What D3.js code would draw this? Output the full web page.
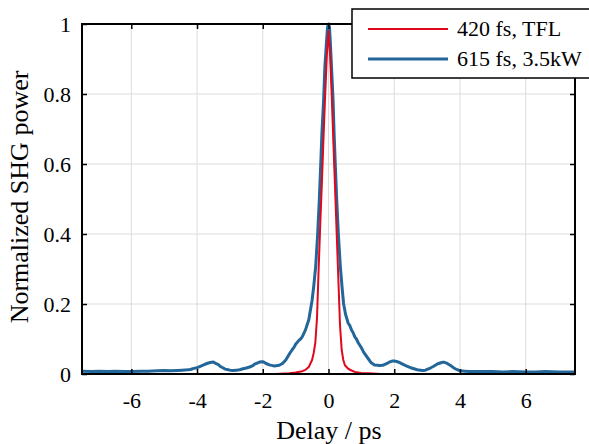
<!DOCTYPE html>
<html><head><meta charset="utf-8">
<script src="https://cdn.jsdelivr.net/npm/d3@7"></script>
<style>body{margin:0;background:#fff}svg{display:block}svg text{font-family:'Liberation Serif','Times New Roman',Times,serif !important}</style>
</head><body><svg id="c" width="589" height="444" font-family="'Liberation Serif', 'Times New Roman', serif"></svg>
<script>
const xTicks=[-6,-4,-2,0,2,4,6];
const yTicks=[0,0.2,0.4,0.6,0.8,1];
const yTickLabels=["0","0.2","0.4","0.6","0.8","1"];
const seriesNames=["420 fs, TFL","615 fs, 3.5kW"];
const seriesColors=["#e0081c","#23679a"];
const tflX=[-1.6,-1.2,-1.0,-0.8,-0.7,-0.6,-0.5,-0.45,-0.4,-0.35,-0.3,-0.25,-0.2,-0.15,-0.1,-0.05,0,0.05,0.1,0.15,0.2,0.25,0.3,0.35,0.4,0.45,0.5,0.6,0.7,0.8,1.0,1.2,1.6];
const tflY=[0,0.002,0.004,0.008,0.012,0.02,0.04,0.06,0.09,0.16,0.30,0.43,0.55,0.68,0.80,0.91,0.98,0.91,0.79,0.66,0.53,0.40,0.27,0.14,0.07,0.04,0.025,0.015,0.01,0.006,0.003,0.002,0];
const kwX=[-7.5,-7.2,-7.0,-6.7,-6.5,-6.2,-6.0,-5.7,-5.5,-5.2,-5.0,-4.8,-4.6,-4.45,-4.3,-4.2,-4.1,-4.0,-3.9,-3.8,-3.7,-3.6,-3.5,-3.45,-3.35,-3.3,-3.2,-3.15,-3.05,-3.0,-2.9,-2.8,-2.7,-2.6,-2.5,-2.4,-2.3,-2.25,-2.15,-2.1,-2.0,-1.95,-1.9,-1.8,-1.7,-1.65,-1.55,-1.5,-1.4,-1.3,-1.25,-1.2,-1.1,-1.05,-1.0,-0.9,-0.85,-0.8,-0.7,-0.6,-0.5,-0.45,-0.39,-0.33,-0.28,-0.24,-0.2,-0.15,-0.11,-0.06,-0.03,0,0.03,0.06,0.1,0.14,0.17,0.21,0.25,0.3,0.36,0.42,0.46,0.52,0.6,0.65,0.7,0.75,0.8,0.85,0.9,1.0,1.05,1.1,1.2,1.3,1.4,1.5,1.55,1.65,1.7,1.8,1.85,1.95,2.0,2.1,2.15,2.3,2.4,2.5,2.6,2.7,2.8,2.85,2.95,3.0,3.1,3.2,3.3,3.35,3.45,3.5,3.6,3.65,3.75,3.8,3.9,4.0,4.15,4.3,4.6,5.0,5.3,5.6,6.0,6.3,6.6,7.0,7.3,7.5];
const kwY=[0.008,0.007,0.008,0.007,0.008,0.007,0.007,0.008,0.008,0.009,0.010,0.009,0.010,0.011,0.012,0.013,0.016,0.018,0.022,0.026,0.030,0.033,0.034,0.031,0.027,0.022,0.017,0.014,0.012,0.011,0.010,0.011,0.012,0.015,0.017,0.020,0.024,0.028,0.032,0.034,0.035,0.033,0.030,0.026,0.024,0.023,0.024,0.025,0.030,0.040,0.048,0.056,0.070,0.076,0.085,0.096,0.100,0.106,0.126,0.155,0.21,0.25,0.307,0.40,0.497,0.59,0.688,0.78,0.878,0.95,0.99,1.0,0.99,0.94,0.86,0.78,0.688,0.59,0.497,0.40,0.307,0.24,0.20,0.17,0.145,0.138,0.126,0.118,0.106,0.100,0.090,0.075,0.066,0.058,0.045,0.032,0.026,0.025,0.024,0.025,0.027,0.031,0.034,0.037,0.037,0.035,0.033,0.026,0.022,0.018,0.015,0.012,0.011,0.010,0.011,0.013,0.017,0.022,0.028,0.030,0.033,0.034,0.031,0.028,0.022,0.018,0.013,0.009,0.008,0.007,0.007,0.007,0.006,0.007,0.006,0.006,0.007,0.006,0.006,0.006];

const FONT="'Liberation Serif', 'Times New Roman', serif";
const svg=d3.select("#c");
const L=82,R=575,T=24,B=374;
const x=d3.scaleLinear().domain([-7.5,7.5]).range([L,R]);
const y=d3.scaleLinear().domain([0,1]).range([B,T]);

// grid
const g=svg.append("g");
g.selectAll(".gx").data(xTicks).join("line").attr("x1",d=>x(d)).attr("x2",d=>x(d)).attr("y1",T).attr("y2",B).attr("stroke","#dcdcdc").attr("stroke-width",1);
g.selectAll(".gy").data(yTicks).join("line").attr("y1",d=>y(d)).attr("y2",d=>y(d)).attr("x1",L).attr("x2",R).attr("stroke","#dcdcdc").attr("stroke-width",1);

svg.append("clipPath").attr("id","cp").append("rect").attr("x",L).attr("y",T-4).attr("width",R-L).attr("height",B-T+4);
const line=d3.line().x(d=>x(d[0])).y(d=>y(d[1]));
const kw=kwX.map((v,i)=>[v,kwY[i]]);
const tfl=tflX.map((v,i)=>[v,tflY[i]]);
svg.append("path").attr("d",line(kw)).attr("fill","none").attr("stroke",seriesColors[1]).attr("stroke-width",3).attr("stroke-linejoin","round").attr("clip-path","url(#cp)");
svg.append("path").attr("d",line(tfl)).attr("fill","none").attr("stroke",seriesColors[0]).attr("stroke-width",2).attr("stroke-linejoin","round").attr("clip-path","url(#cp)");

// axes
const fmtY=d=>yTickLabels[yTicks.indexOf(d)];
const ax=svg.append("g").attr("transform",`translate(0,${B})`).call(d3.axisBottom(x).tickValues(xTicks).tickSize(-5).tickPadding(12).tickFormat(d=>d));
const axT=svg.append("g").attr("transform",`translate(0,${T})`).call(d3.axisTop(x).tickValues(xTicks).tickSize(-5).tickFormat(""));
const ay=svg.append("g").attr("transform",`translate(${L},0)`).call(d3.axisLeft(y).tickValues(yTicks).tickSize(-5).tickPadding(12).tickFormat(fmtY));
const ayR=svg.append("g").attr("transform",`translate(${R},0)`).call(d3.axisRight(y).tickValues(yTicks).tickSize(-5).tickFormat(""));
[ax,axT,ay,ayR].forEach(a=>{a.attr("font-family",FONT).attr("font-size",22);a.select(".domain").remove();a.selectAll("line").attr("stroke","#000").attr("stroke-width",1.5);a.selectAll("text").attr("font-family",FONT).style("font-size","22px").attr("fill","#000");});
ax.selectAll("text").attr("dy","0.71em").attr("y",18);
ay.selectAll("text").attr("x",-11);
svg.append("rect").attr("x",L).attr("y",T).attr("width",R-L).attr("height",B-T).attr("fill","none").attr("stroke","#000").attr("stroke-width",2);

svg.append("text").attr("x",329).attr("y",439).attr("text-anchor","middle").attr("font-family",FONT).style("font-size","26px").text("Delay / ps");
svg.append("text").attr("transform","translate(28,197) rotate(-90)").attr("text-anchor","middle").attr("font-family",FONT).style("font-size","26px").text("Normalized SHG power");

// legend
const lg=svg.append("g");
lg.append("rect").attr("x",352).attr("y",9).attr("width",240).attr("height",69).attr("fill","#fff").attr("stroke","#000").attr("stroke-width",1.5);
const rows=[29,59];
lg.selectAll(".ll").data(seriesNames).join("line").attr("x1",368).attr("x2",448).attr("y1",(d,i)=>rows[i]).attr("y2",(d,i)=>rows[i]).attr("stroke",(d,i)=>seriesColors[i]).attr("stroke-width",(d,i)=>i?3:2);
lg.selectAll(".lt").data(seriesNames).join("text").attr("x",457).attr("y",(d,i)=>rows[i]+7).attr("font-family",FONT).style("font-size","22px").text(d=>d);
</script></body></html>
